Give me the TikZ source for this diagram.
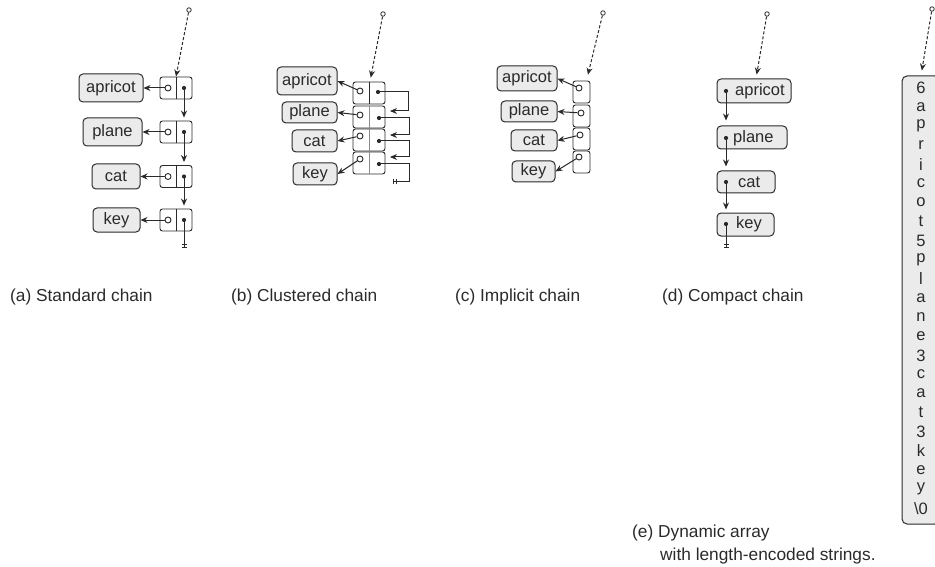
\documentclass[tikz,border=0pt]{standalone}
\usepackage{fontspec}
\setmainfont{Liberation Sans}
\usetikzlibrary{arrows.meta}
\definecolor{linec}{HTML}{2A2A2A}
\definecolor{boxfill}{HTML}{EBEBEB}
\newcommand{\wordfont}{\fontsize{16.5}{19}\selectfont}
\tikzset{
  every node/.append style={font=\fontsize{17.3}{20}\selectfont, text=linec},
  word/.style={draw=linec, fill=boxfill, rounded corners=4pt, line width=1pt, inner sep=0pt, font=\wordfont},
  wordtext/.style={anchor=west, inner sep=0pt, font=\wordfont},
  cellbox/.style={draw=linec, rounded corners=2.5pt, line width=0.9pt, inner sep=0pt},
  cellline/.style={draw=linec, line width=0.9pt},
  faintline/.style={draw=linec!55, line width=0.5pt},
  ptr/.style={-{Stealth[length=7pt,width=6pt]}, line width=1pt, draw=linec},
  nilptr/.style={-{Bar[width=5pt,sep=1.6pt]Bar[width=5pt]}, line width=1pt, draw=linec},
  headptr/.style={ptr, dash pattern=on 3pt off 2pt},
  hopen/.style={circle, draw=linec, fill=white, line width=0.9pt, minimum size=6pt, inner sep=0pt},
  hdot/.style={circle, fill=linec, minimum size=4.2pt, inner sep=0pt},
  headc/.style={circle, draw=linec, fill=white, line width=0.8pt, minimum size=4.5pt, inner sep=0pt},
  caption/.style={anchor=west, inner sep=0pt},
}
\begin{document}
\begin{tikzpicture}[x=1pt,y=-1pt]
\useasboundingbox (0,0) rectangle (935,567);
\clip (0,0) rectangle (935,567);

% ---------------- (a) standard chain ----------------
\node[word, minimum width=64pt, minimum height=28pt] (a1) at (111,88) {apricot};
\node[word, minimum width=59pt, minimum height=28pt] (a2) at (112.5,132) {plane};
\node[word, minimum width=48pt, minimum height=25pt] (a3) at (116,176.5) {cat};
\node[word, minimum width=47pt, minimum height=24pt] (a4) at (116.5,220) {key};
\foreach \i/\y in {1/88,2/132,3/176.5,4/220}{
  \node[cellbox, minimum width=32pt, minimum height=22pt] (ac\i) at (176,\y) {};
  \draw[cellline] (ac\i.north) -- (ac\i.south);
  \node[hopen] (ao\i) at (168,\y) {};
  \node[hdot] (ad\i) at (184,\y) {};
  \draw[ptr] (ao\i.west) -- (ao\i.west -| a\i.east);
}
\draw[ptr, shorten >=3pt] (ad1.center) -- (ad1.center |- ac2.north);
\draw[ptr, shorten >=3pt] (ad2.center) -- (ad2.center |- ac3.north);
\draw[ptr, shorten >=3pt] (ad3.center) -- (ad3.center |- ac4.north);
\coordinate (aend) at (184,248);
\draw[nilptr] (ad4.center) -- (aend);
\node[headc] (ah) at (189,10) {};
\draw[headptr] (ah) -- (ac1.north);
\node[caption] (capa) at (10,297) {(a) Standard chain};

% ---------------- (b) clustered chain ----------------
\node[word, minimum width=60pt, minimum height=28pt] (b1) at (307,81) {apricot};
\node[word, minimum width=55pt, minimum height=21pt] (b2) at (309.5,112.5) {plane};
\node[word, minimum width=45pt, minimum height=22pt] (b3) at (314.5,141) {cat};
\node[word, minimum width=44pt, minimum height=22pt] (b4) at (315,174) {key};
\foreach \i/\y in {1/93,2/117,3/140,4/163}{
  \node[cellbox, minimum width=32pt, minimum height=22pt] (bc\i) at (369,\y) {};
}
\draw[cellline] (bc1.north) -- (bc1.south);
\draw[faintline] (bc2.north) -- (bc2.south);
\draw[faintline] (bc3.north) -- (bc3.south);
\draw[faintline] (bc4.north) -- (bc4.south);
\node[hopen] (bo1) at (360,91) {};
\node[hopen] (bo2) at (360,115) {};
\node[hopen] (bo3) at (360,136) {};
\node[hopen] (bo4) at (360,159) {};
\node[hdot] (bd1) at (378,92) {};
\node[hdot] (bd2) at (379,118) {};
\node[hdot] (bd3) at (379,141) {};
\node[hdot] (bd4) at (379,164) {};
\foreach \i in {1,2,3,4}{ \draw[ptr] (bo\i) -- (b\i.east); }
\coordinate (bt1) at (390,111);
\coordinate (bt2) at (390,135);
\coordinate (bt3) at (390,157);
\coordinate (bend) at (393,182);
\draw[ptr] (bd1.center) -- (408,92) |- (bt1);
\draw[ptr] (bd2.center) -- (409,118) |- (bt2);
\draw[ptr] (bd3.center) -- (409,141) |- (bt3);
\draw[nilptr] (bd4.center) -- (409,164) |- (bend);
\node[headc] (bh) at (383,14) {};
\draw[headptr, shorten >=4pt] (bh) -- ([xshift=1pt]bc1.north);
\node[caption] (capb) at (231,297) {(b) Clustered chain};

% ---------------- (c) implicit chain ----------------
\node[word, minimum width=60pt, minimum height=25pt] (c1) at (527,78.5) {apricot};
\node[word, minimum width=56pt, minimum height=21pt] (c2) at (529,111.5) {plane};
\node[word, minimum width=46pt, minimum height=21pt] (c3) at (534,140.5) {cat};
\node[word, minimum width=43pt, minimum height=21pt] (c4) at (533.5,171.5) {key};
\foreach \i/\y in {1/92,2/116,3/139,4/162}{
  \node[cellbox, minimum width=17pt, minimum height=22pt] (cc\i) at (581.5,\y) {};
}
\node[hopen] (co1) at (579,88) {};
\node[hopen] (co2) at (581,113) {};
\node[hopen] (co3) at (580,135) {};
\node[hopen] (co4) at (579,157) {};
\foreach \i in {1,2,3,4}{ \draw[ptr] (co\i) -- (c\i.east); }
\node[headc] (ch) at (603,13) {};
\draw[headptr, shorten >=6pt] (ch) -- ([xshift=5pt]cc1.north);
\node[caption] (capc) at (455,297) {(c) Implicit chain};

% ---------------- (d) compact chain ----------------
\node[word, minimum width=74pt, minimum height=24pt] (d1) at (754,91) {};
\node[word, minimum width=70pt, minimum height=23pt] (d2) at (752,137.5) {};
\node[word, minimum width=58pt, minimum height=22pt] (d3) at (746,182) {};
\node[word, minimum width=57pt, minimum height=23pt] (d4) at (745.5,224.5) {};
\node[wordtext] (dt1) at (735,91) {apricot};
\node[wordtext] (dt2) at (733,138) {plane};
\node[wordtext] (dt3) at (738,182) {cat};
\node[wordtext] (dt4) at (736,224.5) {key};
\node[hdot] (dd1) at (726,91) {};
\node[hdot] (dd2) at (726,138) {};
\node[hdot] (dd3) at (726,182) {};
\node[hdot] (dd4) at (726,224) {};
\draw[ptr, shorten >=5pt] (dd1.center) -- (dd1.center |- d2.north);
\draw[ptr, shorten >=4pt] (dd2.center) -- (dd2.center |- d3.north);
\draw[ptr, shorten >=3pt] (dd3.center) -- (dd3.center |- d4.north);
\coordinate (dend) at (726,248);
\draw[nilptr] (dd4.center) -- (dend);
\node[headc] (dh) at (767,14) {};
\draw[headptr, shorten >=4pt] (dh) -- ([xshift=2pt]d1.north);
\node[caption] (capd) at (662,297) {(d) Compact chain};

% ---------------- (e) dynamic array ----------------
\node[word, rounded corners=5pt, minimum width=38pt, minimum height=448pt] (e0) at (921,300) {};
\foreach \ch [count=\i] in {6,a,p,r,i,c,o,t,5,p,l,a,n,e,3,c,a,t,3,k,e,y,{\textbackslash 0}}{
  \node[inner sep=0pt, font=\wordfont] (e\i) at (921,{88+(\i-1)*19.1}) {\ch};
}
\node[headc] (eh) at (932,9) {};
\draw[headptr, shorten >=5pt] (eh) -- (e0.north);
\node[caption] (cape1) at (632,533) {(e) Dynamic array};
\node[caption] (cape2) at (660,556) {with length-encoded strings.};
\end{tikzpicture}
\end{document}
